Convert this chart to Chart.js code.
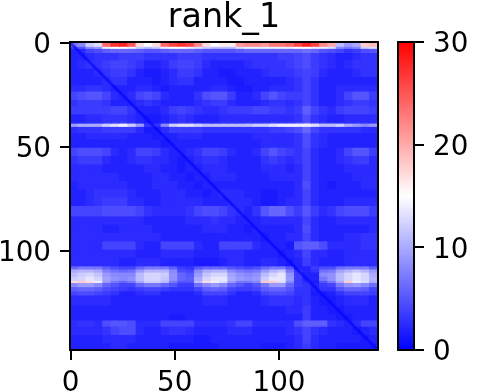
<!DOCTYPE html>
<html>
<head>
<meta charset="utf-8">
<title>rank_1</title>
<script src="https://cdn.jsdelivr.net/npm/chart.js@4"></script>
<style>
    html, body { margin: 0; padding: 0; background: #fff; overflow: hidden; }
    #mapBox { position: absolute; left: 0; top: 0; width: 395px; height: 392px; }
    #barBox { position: absolute; left: 385px; top: 0; width: 93px; height: 392px; }
</style>
</head>
<body>
<div id="mapBox"><canvas id="mapChart"></canvas></div>
<div id="barBox"><canvas id="barChart"></canvas></div>
<script>
const titleText = 'rank_1';
const xTicks = [0, 50, 100];
const yTicks = [0, 50, 100];
const barTicks = [0, 10, 20, 30];
const valueMax = 30;

const colCentres = [1.5, 5.5, 9.5, 13.5, 17.5, 21.5, 25.5, 29.5, 33.5, 37.5, 41.5, 45.5, 49.5, 53.5, 57.5, 61.5, 65.5, 69.5, 73.5,
    77.5, 81.5, 85.5, 89.5, 93.5, 97.5, 101.5, 105.5, 109.5, 113.5, 117.5, 121.5, 125.5, 129.5, 133.5, 137.5, 141.5, 145.5];

// row bands are narrower where the picture has thin lines
const rowEdges = [-0.5, 1.5, 2.5, 4.5, 8, 12, 16, 20, 23, 27, 30, 34, 38, 38.5, 40, 43, 46, 50, 54, 58, 62, 66, 70, 74, 78, 83, 87, 91, 95, 99,
    103, 107, 108.5, 110, 112, 114, 115, 117, 119, 121, 126, 130, 133, 136, 140, 144, 147.5];

const heat = [
    [7,8,12,13,24,27,28,25,17,15,17,24,26,27,26,22,17,15,16,16,21,22,22,21,23,23,24,26,28,26,22,20,11,9,10,18,19],
    [4,5,8,9,14,15,15,14,12,11,12,14,15,15,14,13,12,11,11,11,13,14,14,14,14,14,14,15,15,14,14,13,8,7,8,12,13],
    [2,2.5,4,4.5,5.5,6,6,6,5.5,5,5,5.5,6,6,6,5.5,5,5,5,5,5.5,6,6,6,6,6,6,6,6.5,6,5,4.5,4,3,3.5,4.5,5],
    [2,2,2.5,3,3,3,3.5,3.5,3.5,3,3,3,3,3.5,3.5,3.5,3,3,3,3,3,3,3,3,3,3.5,3.5,4,4.5,3.5,3,2.5,2,2,2.5,3,3],
    [2,2.5,3,3,3.5,4,4,3.5,3,2,2,2.5,3.5,4,4,3.5,2.5,2,2,2,2,2.5,3,3,3,3,3.5,4,4.5,3.5,3,2.5,2,2.5,3,3,3],
    [2,2,2,2.5,3,3.5,3.5,3,2,1.5,1.5,2,2.5,3.5,3.5,3,2,2,1.5,1.5,2,2,2,2.5,3,3,3,3.5,4,3.5,2.5,2,2,2,2.5,3,3],
    [2,2,2,2,2.5,3,3,2,2,2,1.5,2,2.5,3,3,2,2,2,2,1.5,1.5,2,2,2,2,2,2.5,3,4,3,2,2,2,2,2,2,2],
    [2.5,2.5,3,3,2.5,2,2,2,2.5,2.5,2,1.5,2,2,2,2,2,2.5,2.5,2,1.5,1.5,2,2,2.5,2.5,2.5,3,4,3,2,2,2.5,2.5,2.5,2.5,2.5],
    [4,4.5,5,5,4,2.5,2,2.5,4,4.5,4,2.5,2,2,2,3,4.5,5,5,3.5,2,2,2.5,4,5,4,3.5,3.5,4,3,2,2,2.5,4,5,5,3.5],
    [3,3.5,3.5,3.5,3,2,2,2,2.5,3,2.5,2,2,2,2,2.5,3,3.5,3.5,2.5,2,2,2,2.5,3,3,2.5,3,4,3,2,2,2.5,3,3.5,3.5,3],
    [3.5,3.5,3.5,3.5,3.5,4,4,3,2,2,2,2.5,3.5,4,3.5,3,2.5,2.5,3,3.5,3.5,3.5,4,4,3.5,3.5,3,3.5,5.5,4,3,2.5,3.5,4,4,4,3.5],
    [2,2,2.5,2.5,3,3,3,2.5,2,1.5,1.5,2,2.5,3,2.5,2,2,2,2.5,2.5,2.5,2.5,2.5,2.5,2.5,2.5,2.5,3,4.5,3,2.5,2,2,2.5,2.5,2.5,2.5],
    [3,3.5,3.5,4,5,5,6,5,3.5,2,2,3.5,4.5,5,5,4.5,4,3.5,4,4,4,5,5,5,6,6,6,7,8,6,5,5,4.5,4,4,4,4],
    [9,10,10,10,12,13,14,12,9,3,3,8,12,13,13,12,11,11,11,11,11,11,12,12,13,14,14,14,14,13,11,11,12,10,9,8,9],
    [2.5,3,3,3,3.5,3.5,3.5,3.5,2.5,1.5,1.5,2.5,3.5,3.5,3.5,3.5,3,3,3,3,3,3,3,3,3.5,3.5,4,4.5,6,4,3,3,3,3,3,2.5,2.5],
    [2,2,2.5,2.5,2.5,2.5,2.5,2,2,2,1.5,2,2,2.5,2.5,2.5,2,2,2,2,2,2,2.5,2.5,2.5,2.5,2.5,3,4.5,3,2.5,2,2,2,2,2,2],
    [2,2,2,2,2,2,2,2,2,2,2,1.5,2,2,2,2,2,2,2,2,2,2,2,2.5,2.5,2.5,2.5,3,4.5,3,2.5,2,2,2,2,2,2],
    [4,4.5,4.5,4.5,4,2.5,2,2.5,4,4,3.5,2.5,2,2,2.5,3,4,4,3.5,2.5,2,2,2.5,4,5,4,3.5,3,4,2.5,2,2,2.5,4,5,5,3.5],
    [3,3.5,3.5,3.5,2.5,2,2,2.5,3,3,2.5,2.5,2,1.5,2,2.5,3,3,2.5,2,2,2,2,3,3.5,3,2.5,3,4,2.5,2,2,2.5,3,3.5,3.5,2.5],
    [2.5,2.5,2.5,2.5,2,2,2,2,2,2.5,2.5,2,2,1.5,2,2,2.5,2.5,2.5,2,2,2,2,2.5,2.5,2.5,2,2.5,4,2.5,2,2,2,2.5,2.5,2.5,2.5],
    [2.5,2.5,2.5,2.5,2.5,2.5,2,2,2,2,2.5,2.5,2,2,1.5,2,2,2.5,2.5,2.5,2,2,2,2,2.5,2.5,2.5,2.5,4,2.5,2,2,2,2,2.5,2.5,2.5],
    [2,2.5,2.5,2.5,2.5,2.5,2.5,2,2,2,2.5,2.5,2.5,2,2,1.5,2,2,2,2,2,2,2,2,2,2,2,2.5,4.5,2.5,2,1.5,2,2,2,2.5,2.5],
    [2,2,2.5,3,3,3,3,2.5,2,2,2,2.5,2.5,2.5,2,2,1.5,2,2.5,2.5,2.5,2,2,1.5,1.5,2,2,2.5,4,2.5,2,2,2,2,2,2,2],
    [2,2,2.5,3,3.5,3.5,3.5,2.5,2.5,2,2,2.5,2.5,2.5,2.5,2.5,2,2,2,2.5,2.5,2.5,2,1.5,1.5,2,2.5,2.5,4,2.5,2,2,2,2.5,2.5,2.5,2.5],
    [4,4,4,4,4.5,4.5,4.5,4.5,4,3,2.5,2.5,2.5,2.5,3,4,4.5,4.5,4,3,2.5,2,3,5,6,6,4.5,3.5,5,3.5,2.5,3,4,4.5,4.5,4.5,3.5],
    [2.5,2.5,2.5,2.5,2.5,2.5,2.5,2.5,2.5,2,2,2,2,2,2.5,2.5,2.5,3,2.5,2.5,2,2,2,2.5,2.5,2.5,2.5,2.5,4,2.5,2,2,2.5,2.5,2.5,2.5,2.5],
    [2.5,2.5,2.5,2.5,2,2,2.5,2.5,2.5,2.5,2,2,2,2,2,2,2.5,2.5,2.5,2,2,1.5,2,2,2,2,2,2.5,4.5,2.5,2,2,2,2,2,2,2.5],
    [2.5,2.5,2.5,2.5,2.5,2.5,2.5,2.5,2.5,2.5,2.5,2,2,2,2,2,2,2,2,2,2,2,2,1.5,2,2,2.5,2.5,4,2.5,2,2,2,2.5,2.5,3,3],
    [2.5,2.5,2.5,2.5,4,4,4,4,2.5,2,2,4,4,4,4,2.5,2,2,4,4,4,4,2.5,2,2,2,1.5,5,5.5,5.5,4.5,2.5,2.5,2.5,2.5,3,3],
    [2.5,2.5,2.5,2.5,2.5,2.5,2.5,2.5,2,2,2,2.5,2.5,2.5,2.5,2,2,2,2.5,2.5,2.5,2,2,2,2,1.5,2,2.5,4,2.5,2.5,2,2,2.5,2.5,2.5,2.5],
    [2.5,2.5,2.5,2.5,2.5,2.5,2,2,2.5,2.5,2.5,2,2,2,2,1.5,1.5,1.5,2,2.5,2.5,2,2,2.5,2.5,2,1.5,2,3.5,2.5,2,2,2,2.5,2.5,2.5,2.5],
    [6,7,7,7,5.5,4.5,4,4,6,7,7,7,5.5,3.5,3,5,6,6,6,5,4.5,4,4.5,6,7,7,5,2,2,3.5,4.5,4.5,6.5,7,7,7,5.5],
    [10,10.5,10.5,10,7.5,6.5,6,6.5,9,10.5,10.5,10.5,8,4.5,4,8,10,10.5,10.5,8,7,6.5,7,9,10.5,11.5,7,3,2,3,6.5,7,9.5,10.5,11.5,10.5,9],
    [11,12,12.5,11.5,9,8,8,8,11,12.5,12.5,12,8.5,6,5,9,11.5,12.5,12.5,9.5,8.5,8,8.5,11,12.5,13.5,8.5,3.5,2,2,8,8.5,11,12.5,13.5,12.5,10],
    [12,12.5,13.5,12.5,9.5,8.5,8,8.5,11,12.5,12.5,11.5,8.5,6,5.5,10,12.5,13.5,13.5,10,9,8.5,9,12,13.5,13.5,9,3.5,2,2,7,8.5,11,12.5,13.5,12.5,10.5],
    [17,18,17,14,9,7,6,7,10,12,12,11,7,5,5,11,17,14,13,9,7,7,8,18,18,13,8,3.5,2.5,1.5,5,7,10,18,14,13,10],
    [8,9,9,8,6,5,4,4,6,7,7,6,5,3.5,3.5,6.5,8,9,8,6,5,4,5,7,9,9,6,3.5,3,2,3.5,4,7,8.5,9,8,6.5],
    [5.5,6,6,5.5,4.5,4,3.5,3,3.5,4,4,3.5,3,3,3,4,5.5,6,5.5,4,3.5,3.5,4,5.5,6,6,5,3,3,2,3,3,5,6,6,5.5,4],
    [4,4.5,4.5,4,3.5,3,2,2,2.5,3,3,2,2,2,2,2.5,4,4,4,3,2,2,2.5,4,4.5,4.5,4,3,3,1.5,1.5,2,3,4,4,4,3.5],
    [2.5,2.5,2.5,2.5,2.5,2,2,2,2,2,2,2,2,2,2,2,2.5,2.5,2.5,2,2,2,2,2.5,3,3,3,2.5,3,2,1.5,1.5,2,2.5,2.5,2.5,2],
    [2,2,2,2,2,2,2,2,2,2,2,2,2,2,2,2,2,2,2,2,2,2,2,2,2,2,2.5,2.5,3.5,2,2,1.5,1.5,2,2,2,2],
    [2,2,2,2,2,2,2,2,2,2,2,2,1.5,1.5,2,2,2,2,2,2,2,2,2,2,2,2,2,2,3.5,2,2,2,1.5,1.5,2,2,2],
    [2.5,3,3,2.5,4.5,5,5,4.5,2.5,2.5,2.5,4,4,4,4,2.5,2.5,2.5,2.5,3,4,4,2.5,2.5,2.5,2.5,2.5,4.5,5.5,5.5,5.5,3,2.5,2,2.5,4,4],
    [2.5,2.5,2.5,2.5,3,4,4.5,4.5,2.5,2,2,2.5,3,3,2.5,2,2,2,2,2.5,2.5,2.5,2,2,2,2,2.5,3,4,3,2.5,2,2,2,1.5,2,2.5],
    [2,2,2,2,2.5,2.5,2.5,2.5,2,2,2,2,2,2,2,1.5,1.5,2,2,2,2,2,2,2,2,2,2,2.5,4,2.5,2,2,2,2,2,1.5,2],
    [2,2,2,2,2,2.5,2.5,2,2,2,2,2,1.5,1.5,1.5,1.5,1.5,1.5,2,2,2,2,2,1.5,1.5,1.5,2,2.5,3.5,2.5,2,2,1.5,1.5,1.5,1.5,1.5]
];

// the darker diagonal, cell i,i
const diagX = [0, 147];
const diagY = [0, 147];

Chart.defaults.font.family = '"DejaVu Sans"';
Chart.defaults.color = '#000';

// blue - white - red, white in the middle of the range
function bwr(v) {
    var half = valueMax / 2;
    if (v <= half) {
        var c = Math.round(255 * v / half);
        return 'rgb(' + c + ',' + c + ',255)';
    }
    var d = Math.round(255 * (valueMax - v) / half);
    return 'rgb(255,' + d + ',' + d + ')';
}

var frame = {
    id: 'frame',
    afterDraw: function(chart) {
        var a = chart.chartArea, ctx = chart.ctx;
        ctx.save();
        ctx.strokeStyle = '#000';
        ctx.lineWidth = 2;
        ctx.strokeRect(a.left, a.top, a.right - a.left, a.bottom - a.top);
        ctx.restore();
    }
};

function axisTicks(list) {
    return function(axis) {
        axis.ticks = list.map(function(v) { return { value: v }; });
    };
}

// empty first line + tiny line height pushes the digits a bit below the tick
function lowLabel(v) {
    return ['', String(v)];
}

var mapSets = heat.map(function(row, r) {
    return {
        data: row.map(function(v, c) {
            return { x: colCentres[c], y: [rowEdges[r], rowEdges[r + 1]] };
        }),
        backgroundColor: row.map(bwr),
        borderWidth: 0,
        inflateAmount: 0.6,
        barPercentage: 1,
        categoryPercentage: 1,
        grouped: false,
        order: 2
    };
});

mapSets.push({
    type: 'line',
    data: diagX.map(function(x, i) { return { x: x, y: diagY[i] }; }),
    borderColor: 'rgba(0,0,255,0.6)',
    borderWidth: 3,
    pointRadius: 0,
    order: 1
});

new Chart(document.getElementById('mapChart'), {
    type: 'bar',
    data: { datasets: mapSets },
    options: {
        responsive: true,
        maintainAspectRatio: false,
        animation: false,
        layout: { autoPadding: false, padding: { right: 17 } },
        plugins: {
            legend: { display: false },
            tooltip: { enabled: false },
            title: {
                display: true,
                text: titleText,
                fullSize: false,
                color: '#000',
                font: { size: 33.3, weight: 'normal', lineHeight: 1 },
                padding: { top: 1.5, bottom: 7.2 }
            }
        },
        scales: {
            x: {
                type: 'linear',
                offset: false,
                min: -0.25,
                max: 147.5,
                grid: { display: true, offset: false, drawOnChartArea: false, color: '#000', lineWidth: 2, tickLength: 10 },
                border: { display: false },
                afterBuildTicks: axisTicks(xTicks),
                afterFit: function(s) { s.height = 42; },
                ticks: { font: { size: 27.8 }, maxRotation: 0, autoSkip: false, padding: 7 }
            },
            y: {
                type: 'linear',
                reverse: true,
                min: -0.5,
                max: 147.5,
                grid: { display: true, drawOnChartArea: false, color: '#000', lineWidth: 2, tickLength: 10 },
                border: { display: false },
                afterBuildTicks: axisTicks(yTicks),
                afterFit: function(s) { s.width = 70; },
                ticks: { font: { size: 27.8, lineHeight: '6px' }, callback: lowLabel, autoSkip: false, padding: 9 }
            }
        }
    },
    plugins: [frame]
});

new Chart(document.getElementById('barChart'), {
    type: 'bar',
    data: {
        labels: [''],
        datasets: [{
            data: [valueMax],
            borderWidth: 0,
            barPercentage: 1,
            categoryPercentage: 1,
            backgroundColor: function(context) {
                var a = context.chart.chartArea;
                if (!a) return '#00f';
                var g = context.chart.ctx.createLinearGradient(0, a.bottom, 0, a.top);
                g.addColorStop(0, '#0000ff');
                g.addColorStop(0.5, '#ffffff');
                g.addColorStop(1, '#ff0000');
                return g;
            }
        }]
    },
    options: {
        responsive: true,
        maintainAspectRatio: false,
        animation: false,
        layout: { autoPadding: false, padding: { left: 13, top: 42, bottom: 42 } },
        plugins: { legend: { display: false }, tooltip: { enabled: false } },
        scales: {
            x: { display: false },
            y: {
                position: 'right',
                min: 0,
                max: valueMax,
                grid: { display: true, drawOnChartArea: false, color: '#000', lineWidth: 2, tickLength: 10 },
                border: { display: false },
                afterBuildTicks: axisTicks(barTicks),
                afterFit: function(s) { s.width = 64; },
                ticks: { font: { size: 27.8, lineHeight: '6px' }, callback: lowLabel, autoSkip: false, padding: 9 }
            }
        }
    },
    plugins: [frame]
});
</script>
</body>
</html>
